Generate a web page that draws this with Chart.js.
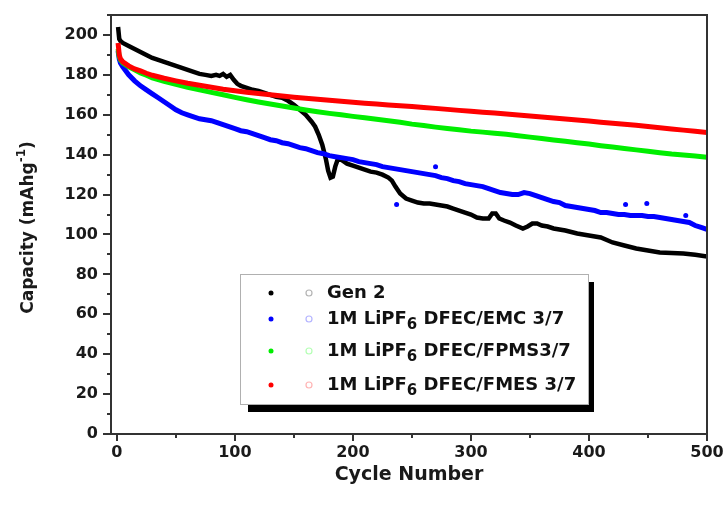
<!DOCTYPE html>
<html>
<head>
<meta charset="utf-8">
<script src="https://cdn.jsdelivr.net/npm/chart.js@4.4.1/dist/chart.umd.min.js"></script>
<style>
  html, body { margin: 0; padding: 0; background: #fff; }
</style>
</head>
<body>
<canvas id="capChart" width="726" height="506"></canvas>
<script>
// [cycle, capacity]
const gen2 = [[1,204],[2,198],[3,197],[5,196],[10,194.5],[15,193],[20,191.5],[25,190],[30,188.5],[35,187.5],[40,186.5],[45,185.5],[50,184.5],[55,183.5],[60,182.5],[65,181.5],[70,180.5],[75,180],[80,179.5],[84,180],[87,179.5],[90,180.5],[93,179],[96,180],[99,177.5],[102,175.5],[105,174.5],[110,173.5],[115,172.5],[120,172],[125,171],[130,170],[135,169],[140,168.5],[145,167],[150,165],[155,162.5],[160,160],[165,156.5],[168,154],[171,150],[174,145],[177,138],[179,132],[181,128.5],[183,129],[185,134],[187,137.5],[190,137.5],[195,135.5],[200,134.5],[205,133.5],[210,132.5],[215,131.5],[220,131],[225,130],[230,128.5],[233,127],[236,124],[240,120.5],[245,118],[250,117],[255,116],[260,115.5],[265,115.5],[270,115],[275,114.5],[280,114],[285,113],[290,112],[295,111],[300,110],[305,108.5],[310,108],[315,108],[318,110.5],[321,110.5],[324,108],[328,107],[333,106],[338,104.5],[344,103],[348,104],[352,105.5],[356,105.5],[360,104.5],[365,104],[370,103],[380,102],[390,100.5],[400,99.5],[410,98.5],[420,96],[430,94.5],[440,93],[450,92],[460,91],[470,90.7],[480,90.5],[490,89.8],[500,89]];
const dfecEmc = [[1,192],[2,188],[3,186],[5,184],[10,180],[15,177],[20,174.5],[25,172.5],[30,170.5],[35,168.5],[40,166.5],[45,164.5],[50,162.5],[55,161],[60,160],[65,159],[70,158],[75,157.5],[80,157],[85,156],[90,155],[95,154],[100,153],[105,152],[110,151.5],[115,150.5],[120,149.5],[125,148.5],[130,147.5],[135,147],[140,146],[145,145.5],[150,144.5],[155,143.5],[160,143],[165,142],[170,141],[175,140.5],[180,139.5],[185,139],[190,138.5],[195,138],[200,137.5],[205,136.5],[210,136],[215,135.5],[220,135],[225,134],[230,133.5],[235,133],[240,132.5],[245,132],[250,131.5],[255,131],[260,130.5],[265,130],[270,129.5],[275,128.5],[280,128],[285,127],[290,126.5],[295,125.5],[300,125],[305,124.5],[310,124],[315,123],[320,122],[325,121],[330,120.5],[335,120],[340,120],[345,121],[350,120.5],[355,119.5],[360,118.5],[365,117.5],[370,116.5],[375,116],[380,114.5],[385,114],[390,113.5],[395,113],[400,112.5],[405,112],[410,111],[415,111],[420,110.5],[425,110],[430,110],[435,109.5],[440,109.5],[445,109.5],[450,109],[455,109],[460,108.5],[465,108],[470,107.5],[475,107],[480,106.5],[485,106],[490,104.5],[495,103.5],[500,102.5]];
const dfecEmcStray = [[237,115],[270,134],[431,115],[449,115.5],[482,109.5]];
const dfecFpms = [[1,193],[2,189],[3,187.5],[5,186],[10,184],[15,182.5],[20,181],[25,179.8],[30,178.5],[40,176.8],[50,175.3],[60,173.8],[70,172.5],[80,171.2],[90,170],[100,168.7],[110,167.5],[120,166.4],[130,165.4],[140,164.4],[150,163.4],[160,162.4],[170,161.5],[180,160.7],[190,160],[200,159.2],[210,158.5],[220,157.7],[230,157],[240,156.2],[250,155.3],[260,154.6],[270,153.8],[280,153.1],[290,152.5],[300,151.8],[310,151.3],[320,150.7],[330,150.2],[340,149.5],[350,148.8],[360,148.1],[370,147.4],[380,146.7],[390,146],[400,145.3],[410,144.5],[420,143.8],[430,143.1],[440,142.4],[450,141.7],[460,141],[470,140.3],[480,139.8],[490,139.3],[500,138.7]];
const dfecFmes = [[1,196],[2,190],[3,188],[5,186.5],[10,184.5],[15,183],[20,182],[25,180.8],[30,179.8],[40,178.3],[50,177],[60,175.8],[70,174.8],[80,173.8],[90,172.8],[100,172],[110,171.3],[120,170.7],[130,170],[140,169.4],[150,168.8],[160,168.3],[170,167.8],[180,167.3],[190,166.8],[200,166.3],[210,165.8],[220,165.4],[230,164.9],[240,164.5],[250,164.1],[260,163.6],[270,163.2],[280,162.7],[290,162.2],[300,161.8],[310,161.3],[320,160.9],[330,160.4],[340,159.9],[350,159.4],[360,158.9],[370,158.4],[380,157.9],[390,157.4],[400,156.9],[410,156.3],[420,155.8],[430,155.2],[440,154.7],[450,154.1],[460,153.5],[470,152.9],[480,152.3],[490,151.7],[500,151.1]];

const xTicks = [0, 100, 200, 300, 400, 500];
const yTicks = [0, 20, 40, 60, 80, 100, 120, 140, 160, 180, 200];
// legend text: [main, subscript, rest]
const legendText = [
  ['Gen 2', '', ''],
  ['1M LiPF', '6', ' DFEC/EMC 3/7'],
  ['1M LiPF', '6', ' DFEC/FPMS3/7'],
  ['1M LiPF', '6', ' DFEC/FMES 3/7']
];
const seriesColors = ['#000000', '#0000ff', '#00ee00', '#ff0000'];
const openColors = ['#b4b4b4', '#b4b4ff', '#b4ffb4', '#ffb4b4'];

const FONT = '"DejaVu Sans", sans-serif';

function toPts(arr) {
  return arr.map(p => ({ x: p[0], y: p[1] }));
}

function lineSet(label, arr, color, order, width) {
  return {
    label: label,
    data: toPts(arr),
    showLine: true,
    borderColor: color,
    backgroundColor: color,
    borderWidth: width,
    pointRadius: 0,
    tension: 0,
    order: order
  };
}

const decor = {
  id: 'decor',
  afterDraw(chart) {
    const ctx = chart.ctx;
    const a = chart.chartArea;
    const xs = chart.scales.x, ys = chart.scales.y;
    ctx.save();

    // frame
    ctx.strokeStyle = '#333';
    ctx.lineWidth = 2;
    ctx.strokeRect(a.left, a.top, a.right - a.left, a.bottom - a.top);

    // ticks, major + minor
    ctx.beginPath();
    for (let v = 0; v <= 500; v += 50) {
      const px = Math.round(xs.getPixelForValue(v));
      ctx.moveTo(px, a.bottom);
      ctx.lineTo(px, a.bottom + (v % 100 === 0 ? 7 : 4));
    }
    for (let v = 0; v <= 210; v += 10) {
      const py = Math.round(ys.getPixelForValue(v));
      ctx.moveTo(a.left, py);
      ctx.lineTo(a.left - (v % 20 === 0 ? 8 : 4), py);
    }
    ctx.stroke();

    // axis titles
    ctx.fillStyle = '#1a1a1a';
    ctx.textBaseline = 'middle';
    ctx.textAlign = 'center';
    ctx.font = 'bold 19px ' + FONT;
    ctx.fillText('Cycle Number', (a.left + a.right) / 2, 475);

    ctx.translate(29, (a.top + a.bottom) / 2 + 3);
    ctx.rotate(-Math.PI / 2);
    ctx.textAlign = 'left';
    const big = 'bold 17px ' + FONT, small = 'bold 12px ' + FONT;
    ctx.font = big;
    const w1 = ctx.measureText('Capacity (mAhg').width;
    const w3 = ctx.measureText(')').width;
    ctx.font = small;
    const w2 = ctx.measureText('-1').width;
    let x0 = -(w1 + w2 + w3) / 2;
    ctx.font = big;
    ctx.fillText('Capacity (mAhg', x0, 0);
    ctx.font = small;
    ctx.fillText('-1', x0 + w1, -7);
    ctx.font = big;
    ctx.fillText(')', x0 + w1 + w2, 0);
    ctx.restore();

    // legend box with drop shadow
    ctx.save();
    const bx = 240, by = 274, bw = 348, bh = 130;
    ctx.fillStyle = '#000';
    ctx.fillRect(bx + 8, by + 8, bw - 2, bh);
    ctx.fillStyle = '#fff';
    ctx.fillRect(bx, by, bw, bh);
    ctx.strokeStyle = '#b0b0b0';
    ctx.lineWidth = 1;
    ctx.strokeRect(bx + 0.5, by + 0.5, bw, bh);

    const rowY = [293, 319, 351, 385];
    ctx.textBaseline = 'middle';
    ctx.textAlign = 'left';
    legendText.forEach((t, i) => {
      const y = rowY[i];
      ctx.fillStyle = seriesColors[i];
      ctx.beginPath();
      ctx.arc(271, y, 2.5, 0, Math.PI * 2);
      ctx.fill();
      ctx.strokeStyle = openColors[i];
      ctx.lineWidth = 1.2;
      ctx.beginPath();
      ctx.arc(309, y, 3, 0, Math.PI * 2);
      ctx.stroke();

      ctx.fillStyle = '#111';
      let x = 327;
      ctx.font = 'bold 18px ' + FONT;
      ctx.fillText(t[0], x, y);
      x += ctx.measureText(t[0]).width;
      if (t[1]) {
        ctx.font = 'bold 15px ' + FONT;
        ctx.fillText(t[1], x, y + 6);
        x += ctx.measureText(t[1]).width;
        ctx.font = 'bold 18px ' + FONT;
        ctx.fillText(t[2], x, y);
      }
    });
    ctx.restore();
  }
};

new Chart(document.getElementById('capChart').getContext('2d'), {
  type: 'scatter',
  data: {
    datasets: [
      lineSet('Gen 2', gen2, seriesColors[0], 4, 4.5),
      lineSet('1M LiPF6 DFEC/EMC 3/7', dfecEmc, seriesColors[1], 3, 5),
      {
        label: 'stray',
        data: toPts(dfecEmcStray),
        backgroundColor: seriesColors[1],
        borderWidth: 0,
        pointRadius: 2.5,
        order: 3
      },
      lineSet('1M LiPF6 DFEC/FPMS3/7', dfecFpms, seriesColors[2], 2, 5),
      lineSet('1M LiPF6 DFEC/FMES 3/7', dfecFmes, seriesColors[3], 1, 5)
    ]
  },
  options: {
    responsive: false,
    animation: false,
    layout: { padding: { top: 15, right: 19, left: 0, bottom: 0 } },
    plugins: {
      legend: { display: false },
      tooltip: { enabled: false }
    },
    scales: {
      x: {
        type: 'linear',
        min: -5,
        max: 500,
        afterBuildTicks: s => { s.ticks = xTicks.map(v => ({ value: v })); },
        afterFit: s => { s.height = 72; },
        grid: { drawOnChartArea: false, tickLength: 7, tickColor: 'transparent' },
        border: { display: false },
        ticks: {
          padding: 2,
          color: '#1a1a1a',
          maxRotation: 0,
          font: { family: FONT, size: 16, weight: 'bold' }
        }
      },
      y: {
        type: 'linear',
        min: 0,
        max: 210,
        afterBuildTicks: s => { s.ticks = yTicks.map(v => ({ value: v })); },
        afterFit: s => { s.width = 111; },
        grid: { drawOnChartArea: false, tickLength: 8, tickColor: 'transparent' },
        border: { display: false },
        ticks: {
          padding: 5,
          color: '#1a1a1a',
          font: { family: FONT, size: 16, weight: 'bold' }
        }
      }
    }
  },
  plugins: [decor]
});
</script>
</body>
</html>
